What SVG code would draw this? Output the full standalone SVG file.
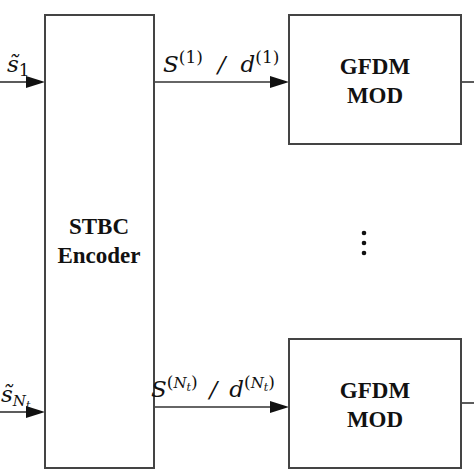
<svg xmlns="http://www.w3.org/2000/svg" width="474" height="474" viewBox="0 0 474 474">
<defs>
<style>
.box{fill:#fff;stroke:#444;stroke-width:2}
.ln{stroke:#333;stroke-width:1.6;fill:none}
.bt{font-family:"Liberation Serif",serif;font-weight:bold;font-size:23px;fill:#111;text-anchor:middle}
.mt{font-family:"DejaVu Serif",serif;font-style:italic;font-size:23px;fill:#111}
.sup{font-size:17px;font-style:normal}
</style>
</defs>
<rect width="474" height="474" fill="#fff"/>
<g id="connectors">
<path class="ln" d="M0,82 H26"/>
<polygon points="26,76 45,82 26,88" fill="#111"/>
<path class="ln" d="M0,412 H26"/>
<polygon points="26,406 45,412 26,418" fill="#111"/>
<path class="ln" d="M154,82 H270"/>
<polygon points="270,76 289,82 270,88" fill="#111"/>
<path class="ln" d="M154,407 H270"/>
<polygon points="270,401 289,407 270,413" fill="#111"/>
<path class="ln" d="M461,82 H474"/>
<path class="ln" d="M461,403 H474"/>
</g>
<g id="stbc">
<rect class="box" x="45" y="15" width="109" height="453"/>
<text class="bt" x="99" y="234">STBC</text>
<text class="bt" x="99" y="263">Encoder</text>
</g>
<g id="gfdm1">
<rect class="box" x="289" y="15" width="172" height="129"/>
<text class="bt" x="375" y="74">GFDM</text>
<text class="bt" x="375" y="103">MOD</text>
</g>
<g id="gfdm2">
<rect class="box" x="289" y="339" width="172" height="129"/>
<text class="bt" x="375" y="398">GFDM</text>
<text class="bt" x="375" y="427">MOD</text>
</g>
<g id="dots" fill="#111">
<circle cx="364" cy="233" r="2.3"/>
<circle cx="364" cy="243" r="2.3"/>
<circle cx="364" cy="253" r="2.3"/>
</g>
<g id="labels">
<text class="mt" x="7" y="72">s̃<tspan class="sup" dy="4">1</tspan></text>
<text class="mt" x="1" y="402">s̃<tspan font-size="15" dy="4">N</tspan><tspan font-size="11" dy="3">t</tspan></text>
<text class="mt" x="163" y="72">S<tspan class="sup" dy="-9">(1)</tspan><tspan dy="9" dx="15">/</tspan><tspan dx="15">d</tspan><tspan class="sup" dy="-9">(1)</tspan></text>
<text class="mt" x="151" y="397">S<tspan class="sup" dy="-9">(</tspan><tspan font-size="15" dy="0">N</tspan><tspan font-size="11" dy="3">t</tspan><tspan class="sup" dy="-3">)</tspan><tspan dy="9" dx="12">/</tspan><tspan dx="12">d</tspan><tspan class="sup" dy="-9">(</tspan><tspan font-size="15">N</tspan><tspan font-size="11" dy="3">t</tspan><tspan class="sup" dy="-3">)</tspan></text>
</g>
</svg>
